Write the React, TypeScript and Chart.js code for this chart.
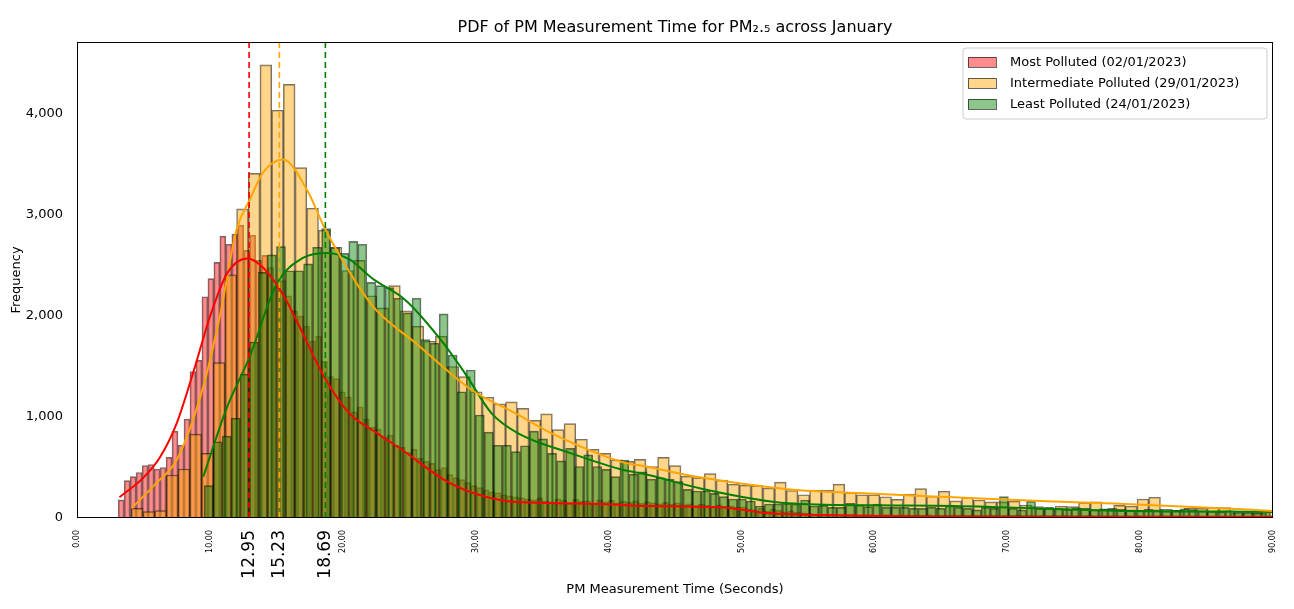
import React, { useEffect, useRef } from 'react';
import { Chart, registerables } from 'chart.js';

Chart.register(...registerables);

const FONT = "'DejaVu Sans', sans-serif";

// histogram bins: start (s) and width (s)
const redStart = 3.1;
const redWidth = 0.45;
const redCounts = [
  180, 370, 410, 450, 520, 530, 485, 500, 600, 860, 720, 980, 1450, 1560, 2190, 2370, 2530, 2790, 2710, 2810, 2900,
  2650, 2800, 2550, 2600, 2480, 2300, 2350, 2200, 2050, 2000, 1900, 1750, 1800, 1550, 1400, 1380, 1250, 1200, 1050, 1100,
  980, 900, 880, 800, 820, 720, 700, 650, 680, 590, 560, 540, 480, 500, 430, 400, 380, 350, 320, 300,
  280, 260, 250, 230, 220, 210, 200, 190,
  180, 200, 170, 160, 190, 175, 150, 185, 165, 170, 140, 180, 160, 175, 150, 165, 155, 170, 145, 160, 150, 140, 155, 135, 150,
  130, 140, 120, 135, 125, 110, 130, 115, 120, 105, 110,
  90, 80, 95, 70, 85, 75, 60, 70, 55, 50, 45,
  40, 35, 30, 38, 32, 28, 35, 30, 25, 33, 30, 28, 35, 27, 30, 32, 26, 30, 28, 33,
  25, 30, 27, 29, 31, 26, 28, 30, 24, 27, 29, 25, 28, 26, 30, 24, 27, 25, 28, 23,
  26, 24, 27, 22, 25, 23, 26, 21, 24, 22, 25, 20, 23, 21, 24, 20, 22, 19, 23, 21,
  20, 18, 22, 19, 21, 17, 20, 18, 19, 16, 18, 17, 19, 15, 17, 16, 18,
];

const orangeStart = 4.09;
const orangeWidth = 0.88;
const orangeCounts = [
  96, 63, 73, 426, 485, 830, 640, 1538, 2406, 3060, 3412, 4485, 4036, 4293, 3468, 3066, 2850,
  2680, 2450, 2550, 2200, 2080, 2300, 2050, 1900, 1750, 1800, 1500, 1400, 1250,
  1195, 1130, 1150, 1085, 966, 1030, 875, 935, 780, 680, 640, 575, 560, 580, 510, 600,
  518, 415, 400, 440, 375, 335, 325, 320, 297, 355, 272, 230, 277, 277, 335, 250, 230, 230, 210, 185, 237, 290, 215, 265, 170,
  201, 178, 160, 160, 167, 128, 112, 95, 117, 112, 152, 160, 85, 125, 118, 188, 205, 85, 79, 95, 95, 105, 102, 51, 51, 46, 63,
];

const greenStart = 9.57;
const greenWidth = 0.68;
const greenCounts = [
  320, 755, 810, 987, 1425, 1742, 2432, 2604, 2686, 2448, 2448, 2515, 2680, 2864, 2676, 2620, 2739, 2710, 2333,
  2300, 2280, 2175, 2030, 2175, 1765, 1730, 2020, 1614, 1250, 1465, 1020, 850, 720, 720, 657, 715, 860, 783, 640, 565,
  690, 510, 625, 510, 482, 410, 574, 435, 458, 385, 398, 383, 360, 284, 267, 267, 244, 211, 188, 188,
  168, 119, 139, 139, 145, 139, 178, 119, 125, 105, 105, 145, 130, 112, 139, 105, 105, 105, 95, 95, 105, 95, 119, 105,
  95, 80, 105, 95, 211, 95, 80, 165, 95, 105, 90, 85, 100, 95, 80, 90, 95, 85, 80, 75, 85, 80, 70, 75, 90, 80, 70,
  65, 60, 70, 65, 60, 55, 70,
];

// smoothed density curves
const redKdeX = [3.2, 5, 6.27, 7.5, 8.8, 10, 11.3, 12.8, 14, 15.6, 16.8, 18.6, 20.5, 22.6, 24.3, 28.1, 31.8, 35, 39.4, 43, 48.4, 52.2, 56, 65, 80, 90];
const redKdeY = [206, 400, 607, 937, 1465, 1990, 2422, 2570, 2480, 2190, 1878, 1397, 1036, 838, 690, 343, 178, 150, 139, 119, 106, 46, 30, 15, 13, 12];
const orangeKdeX = [4.1, 6, 7.5, 9.5, 10.8, 12, 13, 14, 15.5, 17.3, 18.6, 19.8, 21.2, 22.5, 25.5, 29.7, 33, 36, 40.9, 43, 47, 53.5, 60, 66, 72, 78, 84, 90];
const orangeKdeY = [96, 350, 574, 1300, 2030, 2850, 3150, 3420, 3550, 3250, 2880, 2590, 2290, 2060, 1730, 1267, 1036, 820, 560, 505, 400, 285, 240, 205, 170, 143, 110, 70];
const greenKdeX = [9.5, 11.3, 13, 15, 17, 18.8, 20.5, 22.2, 24.7, 27.2, 29.2, 31.2, 33.2, 37.2, 40.9, 43, 47, 53.5, 60, 66, 78, 90];
const greenKdeY = [408, 1100, 1597, 2310, 2574, 2624, 2560, 2373, 2158, 1792, 1432, 1036, 838, 640, 482, 426, 290, 145, 125, 119, 73, 63];

const medians = [12.95, 15.23, 18.69];
const medianColors = ['#ff0000', '#ffa500', '#008000'];
const xTicks = [0, 10, 20, 30, 40, 50, 60, 70, 80, 90];
const yTicks = [0, 1000, 2000, 3000, 4000];

const legendLabels = ['Most Polluted (02/01/2023)', 'Intermediate Polluted (29/01/2023)', 'Least Polluted (24/01/2023)'];
const fills = ['rgba(255,0,0,0.45)', 'rgba(255,165,0,0.45)', 'rgba(0,128,0,0.45)'];

const bins = (start: number, w: number, counts: number[]) =>
  counts.map((y, i) => ({ x: start + w * (i + 0.5), y }));
const curve = (xs: number[], ys: number[]) => xs.map((x, i) => ({ x, y: ys[i] }));

const thickness = (w: number) => (ctx: any) => {
  const sx = ctx.chart.scales?.x;
  if (!sx) return 5;
  return Math.abs(sx.getPixelForValue(w) - sx.getPixelForValue(0));
};

const decor = {
  id: 'decor',
  afterDatasetsDraw(chart: any) {
    const { ctx, chartArea: a, scales } = chart;
    ctx.save();
    ctx.setLineDash([6, 4]);
    ctx.lineWidth = 1.6;
    medians.forEach((m, i) => {
      const px = scales.x.getPixelForValue(m);
      ctx.strokeStyle = medianColors[i];
      ctx.beginPath();
      ctx.moveTo(px, a.top);
      ctx.lineTo(px, a.bottom);
      ctx.stroke();
    });
    ctx.setLineDash([]);
    // frame
    ctx.strokeStyle = '#000';
    ctx.lineWidth = 1;
    ctx.strokeRect(a.left + 0.5, a.top + 0.5, a.width - 1, a.height - 1);
    // legend
    const lx = 963, ly = 48, lw = 304, lh = 71;
    ctx.fillStyle = 'rgba(255,255,255,0.8)';
    ctx.strokeStyle = '#ccc';
    ctx.beginPath();
    ctx.roundRect(lx, ly, lw, lh, 3);
    ctx.fill();
    ctx.stroke();
    ctx.font = `13px ${FONT}`;
    ctx.textBaseline = 'middle';
    legendLabels.forEach((t, i) => {
      const y = 62 + i * 21;
      ctx.fillStyle = '#fff';
      ctx.fillRect(968, y - 5, 28, 10);
      ctx.fillStyle = fills[i];
      ctx.fillRect(968, y - 5, 28, 10);
      ctx.strokeStyle = 'rgba(0,0,0,0.6)';
      ctx.strokeRect(968.5, y - 4.5, 28, 10);
      ctx.fillStyle = '#000';
      ctx.fillText(t, 1010, y + 1);
    });
    // titles
    ctx.textAlign = 'center';
    ctx.font = `16px ${FONT}`;
    ctx.fillText('PDF of PM Measurement Time for PM₂.₅ across January', 675, 28);
    ctx.font = `13px ${FONT}`;
    ctx.fillText('PM Measurement Time (Seconds)', 675, 590);
    ctx.translate(17, 280);
    ctx.rotate(-Math.PI / 2);
    ctx.fillText('Frequency', 0, 0);
    ctx.restore();
  },
};

export default function App() {
  const ref = useRef<HTMLCanvasElement>(null);

  useEffect(() => {
    document.body.style.margin = '0';
    if (!ref.current) return;
    const barDs = (i: number, data: any[], w: number, order: number) => ({
      type: 'bar' as const,
      data,
      backgroundColor: fills[i],
      borderColor: 'rgba(0,0,0,0.55)',
      borderWidth: 1,
      barThickness: thickness(w),
      grouped: false,
      order,
    });
    const lineDs = (data: any[], color: string) => ({
      type: 'line' as const,
      data,
      borderColor: color,
      borderWidth: 2,
      pointRadius: 0,
      cubicInterpolationMode: 'monotone' as const,
      order: 0,
    });
    const chart = new Chart(ref.current, {
      type: 'bar',
      data: {
        datasets: [
          lineDs(curve(redKdeX, redKdeY), '#ff0000'),
          lineDs(curve(orangeKdeX, orangeKdeY), '#ffa500'),
          lineDs(curve(greenKdeX, greenKdeY), '#008000'),
          barDs(2, bins(greenStart, greenWidth, greenCounts), greenWidth, 1),
          barDs(1, bins(orangeStart, orangeWidth, orangeCounts), orangeWidth, 2),
          barDs(0, bins(redStart, redWidth, redCounts), redWidth, 3),
        ] as any,
      },
      options: {
        animation: false,
        responsive: false,
        layout: { padding: { top: 42, right: 21, left: 0, bottom: 0 } },
        plugins: { legend: { display: false }, tooltip: { enabled: false } },
        scales: {
          x: {
            type: 'linear',
            min: 0,
            max: 90,
            offset: false,
            grid: { display: false },
            border: { display: false },
            afterFit: (s: any) => { s.height = 91; },
            afterBuildTicks: (s: any) => {
              s.ticks = [...xTicks, ...medians].map((v) => ({ value: v }));
            },
            ticks: {
              autoSkip: false,
              minRotation: 90,
              maxRotation: 90,
              color: '#000',
              padding: 4,
              font: (c: any) => ({ family: FONT, size: medians.includes(c.tick?.value) ? 17 : 8 }),
              callback: (v: any) => Number(v).toFixed(2),
            },
          },
          y: {
            min: 0,
            max: 4712,
            grid: { display: false },
            border: { display: false },
            afterFit: (s: any) => { s.width = 77; },
            afterBuildTicks: (s: any) => {
              s.ticks = yTicks.map((v) => ({ value: v }));
            },
            ticks: { color: '#000', font: { family: FONT, size: 13 }, padding: 6 },
          },
        },
      },
      plugins: [decor],
    });
    return () => chart.destroy();
  }, []);

  return <canvas ref={ref} width={1294} height={609} style={{ display: 'block' }} />;
}
